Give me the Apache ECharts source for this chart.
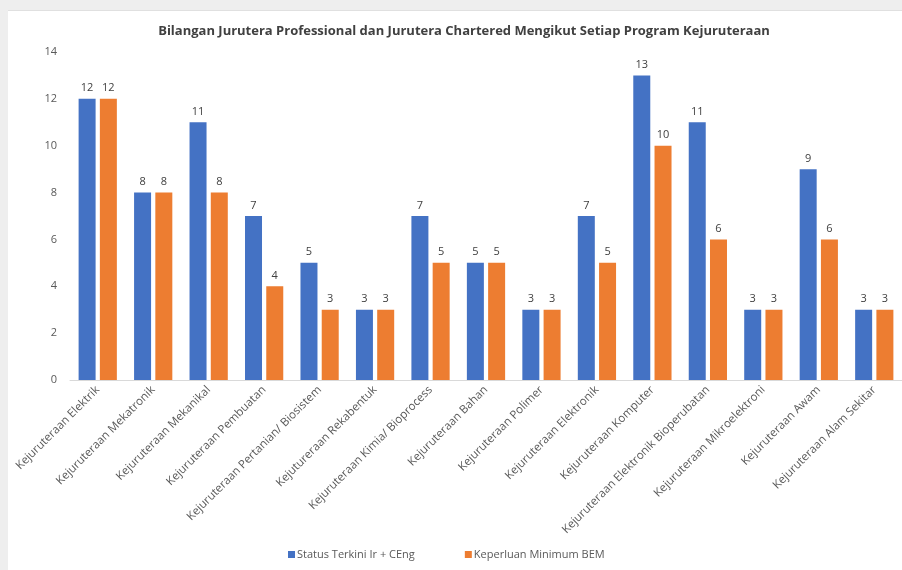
<!DOCTYPE html>
<html><head><meta charset="utf-8">
<script src="https://cdn.jsdelivr.net/npm/echarts@6/dist/echarts.min.js"></script>
<style>
html,body{margin:0;padding:0;background:#eeeeee;width:902px;height:570px;overflow:hidden;}
#c{position:absolute;left:8px;top:10px;width:894px;height:560px;background:#ffffff;border-top:1px solid #e0e0e0;box-sizing:border-box;}
</style></head>
<body><div id="c"></div>
<script>
const categories = [
  "Kejuruteraan Elektrik",
  "Kejuruteraan Mekatronik",
  "Kejuruteraan Mekanikal",
  "Kejuruteraan Pembuatan",
  "Kejuruteraan Pertanian/ Biosistem",
  "Kejutureraan Rekabentuk",
  "Kejuruteraan Kimia/ Bioprocess",
  "Kejuruteraan Bahan",
  "Kejuruteraan Polimer",
  "Kejuruteraan Elektronik",
  "Kejuruteraan Komputer",
  "Kejuruteraan Elektronik Bioperubatan",
  "Kejuruteraan Mikroelektroni",
  "Kejuruteraan Awam",
  "Kejuruteraan Alam Sekitar"
];
const statusTerkini = [12, 8, 11, 7, 5, 3, 7, 5, 3, 7, 13, 11, 3, 9, 3];
const keperluanMinimum = [12, 8, 8, 4, 3, 3, 5, 5, 3, 5, 10, 6, 3, 6, 3];
const seriesNames = ["Status Terkini Ir + CEng", "Keperluan Minimum BEM"];

const FONT = "'Open Sans', sans-serif";
const chart = echarts.init(document.getElementById('c'), null, {renderer: 'canvas'});
const lbl = {show: true, position: 'top', distance: 5, color: '#404040', fontSize: 11, fontFamily: FONT};
chart.setOption({
  animation: false,
  title: {
    text: "Bilangan Jurutera Professional dan Jurutera Chartered Mengikut Setiap Program Kejuruteraan",
    left: 451, top: 9, textAlign: 'center',
    textStyle: {fontSize: 13, fontWeight: 'bold', color: '#404040', fontFamily: FONT}
  },
  legend: {
    data: seriesNames, left: 275, top: 533,
    itemWidth: 7, itemHeight: 7, itemGap: 50, icon: 'rect',
    textStyle: {fontSize: 11, color: '#595959', fontFamily: FONT, padding: [0, 0, 0, -3]}
  },
  grid: {left: 62, right: -4, top: 41, bottom: 190, containLabel: false},
  xAxis: {
    type: 'category', data: categories,
    axisLine: {lineStyle: {color: '#d9d9d9'}},
    axisTick: {show: false},
    axisLabel: {interval: 0, rotate: 45, fontSize: 11.5, color: '#595959', fontFamily: FONT, margin: 8}
  },
  yAxis: {
    type: 'value', min: 0, max: 14, interval: 2,
    splitLine: {show: false},
    axisLine: {show: false}, axisTick: {show: false},
    axisLabel: {fontSize: 11, color: '#595959', fontFamily: FONT, margin: 13}
  },
  series: [
    {name: seriesNames[0], type: 'bar', data: statusTerkini, barWidth: 17, barGap: '25%',
     itemStyle: {color: '#4472C4'}, label: lbl},
    {name: seriesNames[1], type: 'bar', data: keperluanMinimum, barWidth: 17,
     itemStyle: {color: '#ED7D31'}, label: lbl}
  ]
});
</script></body></html>
